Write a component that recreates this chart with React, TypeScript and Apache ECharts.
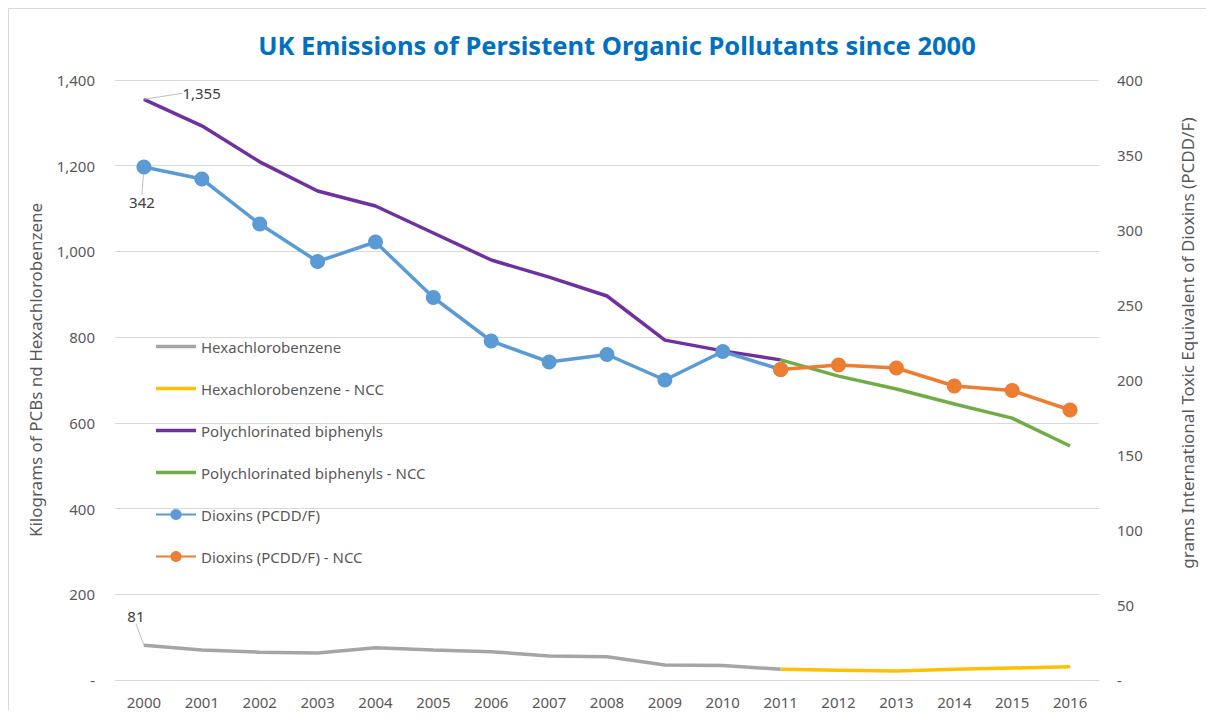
import React, { useEffect, useRef } from "react";
import * as echarts from "echarts";

const years = ["2000", "2001", "2002", "2003", "2004", "2005", "2006", "2007", "2008", "2009", "2010", "2011", "2012", "2013", "2014", "2015", "2016"];

const hexachlorobenzene = [81, 70, 65, 63, 75, 70, 66, 56, 54, 35, 34, 25, null, null, null, null, null];
const hexachlorobenzeneNCC = [null, null, null, null, null, null, null, null, null, null, null, 25, 23, 21, 25, 28, 31];
const pcbs = [1355, 1293, 1209, 1141, 1106, 1043, 980, 940, 896, 793, 768, 747, null, null, null, null, null];
const pcbsNCC = [null, null, null, null, null, null, null, null, null, null, null, 747, 709, 679, 644, 611, 546];
const dioxins = [342, 334, 304, 279, 292, 255, 226, 212, 217, 200, 219, 207, null, null, null, null, null];
const dioxinsNCC = [null, null, null, null, null, null, null, null, null, null, null, 207, 210, 208, 196, 193, 180];

const leftTicks = { min: 0, max: 1400, interval: 200 };
const rightTicks = { min: 0, max: 400, interval: 50 };

const FONT = "'Noto Sans', 'Open Sans', sans-serif";
const TEXT = "#595959";
const LINE_ICON = "path://M0,0 L40,0 L40,3.5 L0,3.5 Z";

const fmt = (v: number) => (v === 0 ? "-" : Number(v).toLocaleString("en-US"));

function firstLabelled(arr: (number | null)[], label: any) {
  return arr.map((v, i) =>
    i === 0 && v != null
      ? { value: v, symbol: "circle", symbolSize: 1, label: { show: true, ...label } }
      : v
  );
}

export default function App() {
  const ref = useRef<HTMLDivElement>(null);
  useEffect(() => {
    if (!ref.current) return;
    const chart = echarts.init(ref.current, null, { renderer: "svg" });
    const labelText = {
      fontFamily: FONT,
      fontSize: 15,
      color: "#404040",
      formatter: (p: any) => fmt(p.value),
    };
    const option: any = {
      animation: false,
      backgroundColor: "#ffffff",
      title: {
        text: "UK Emissions of Persistent Organic Pollutants since 2000",
        left: 603,
        textAlign: "center",
        top: 18,
        textStyle: { color: "#0070C0", fontFamily: FONT, fontSize: 25.5, fontWeight: "bold" },
      },
      grid: { left: 106, top: 71, width: 984, height: 600, containLabel: false },
      legend: {
        orient: "vertical",
        left: 141,
        top: 325,
        itemWidth: 40,
        itemHeight: 14,
        itemGap: 27,
        symbolKeepAspect: true,
        textStyle: { color: TEXT, fontFamily: FONT, fontSize: 15 },
        data: [
          { name: "Hexachlorobenzene", icon: LINE_ICON },
          { name: "Hexachlorobenzene - NCC", icon: LINE_ICON },
          { name: "Polychlorinated biphenyls", icon: LINE_ICON },
          { name: "Polychlorinated biphenyls - NCC", icon: LINE_ICON },
          { name: "Dioxins (PCDD/F)" },
          { name: "Dioxins (PCDD/F) - NCC" },
        ],
      },
      xAxis: {
        type: "category",
        data: years,
        boundaryGap: true,
        axisLine: { show: true, lineStyle: { color: "#d9d9d9" } },
        axisTick: { show: false },
        axisLabel: { color: TEXT, fontFamily: FONT, fontSize: 15, margin: 14 },
      },
      yAxis: [
        {
          type: "value",
          ...leftTicks,
          axisLine: { show: false },
          axisTick: { show: false },
          splitLine: { lineStyle: { color: "#d9d9d9" } },
          axisLabel: { color: TEXT, fontFamily: FONT, fontSize: 15, margin: 20, formatter: fmt },
        },
        {
          type: "value",
          ...rightTicks,
          position: "right",
          axisLine: { show: false },
          axisTick: { show: false },
          splitLine: { show: false },
          axisLabel: { color: TEXT, fontFamily: FONT, fontSize: 15, margin: 18, formatter: fmt },
        },
      ],
      graphic: [
        {
          type: "text",
          x: 26,
          y: 361,
          rotation: Math.PI / 2,
          style: {
            text: "Kilograms of PCBs nd Hexachlorobenzene",
            fill: TEXT,
            font: `17px ${FONT}`,
            align: "center",
            verticalAlign: "middle",
          },
        },
        {
          type: "text",
          x: 1178,
          y: 334,
          rotation: Math.PI / 2,
          style: {
            text: "grams International Toxic Equivalent of Dioxins (PCDD/F)",
            fill: TEXT,
            font: `17px ${FONT}`,
            align: "center",
            verticalAlign: "middle",
          },
        },
      ],
      series: [
        {
          name: "Hexachlorobenzene",
          type: "line",
          yAxisIndex: 0,
          symbol: "none",
          data: firstLabelled(hexachlorobenzene, { position: "top", ...labelText }),
          lineStyle: { color: "#A5A5A5", width: 3.5 },
          itemStyle: { color: "#A5A5A5" },
          labelLine: { show: true, lineStyle: { color: "#bfbfbf", width: 1 } },
          labelLayout: (p: any) => (p.dataIndex === 0 ? { dx: -8, dy: -16 } : {}),
        },
        {
          name: "Hexachlorobenzene - NCC",
          type: "line",
          yAxisIndex: 0,
          symbol: "none",
          data: hexachlorobenzeneNCC,
          lineStyle: { color: "#FFC000", width: 3.5 },
          itemStyle: { color: "#FFC000" },
        },
        {
          name: "Polychlorinated biphenyls",
          type: "line",
          yAxisIndex: 0,
          symbol: "none",
          data: firstLabelled(pcbs, { position: "right", ...labelText }),
          lineStyle: { color: "#7030A0", width: 3.5 },
          itemStyle: { color: "#7030A0" },
          labelLine: { show: true, lineStyle: { color: "#bfbfbf", width: 1 } },
          labelLayout: (p: any) => (p.dataIndex === 0 ? { dx: 33, dy: -6 } : {}),
        },
        {
          name: "Polychlorinated biphenyls - NCC",
          type: "line",
          yAxisIndex: 0,
          symbol: "none",
          data: pcbsNCC,
          lineStyle: { color: "#70AD47", width: 3.5 },
          itemStyle: { color: "#70AD47" },
        },
        {
          name: "Dioxins (PCDD/F)",
          type: "line",
          yAxisIndex: 1,
          symbol: "circle",
          symbolSize: 15,
          data: dioxins.map((v, i) =>
            i === 0 ? { value: v, label: { show: true, position: "bottom", ...labelText } } : v
          ),
          lineStyle: { color: "#5B9BD5", width: 3.5 },
          itemStyle: { color: "#5B9BD5" },
          labelLine: { show: true, lineStyle: { color: "#bfbfbf", width: 1 } },
          labelLayout: (p: any) => (p.dataIndex === 0 ? { dx: -2, dy: 15 } : {}),
        },
        {
          name: "Dioxins (PCDD/F) - NCC",
          type: "line",
          yAxisIndex: 1,
          symbol: "circle",
          symbolSize: 15,
          data: dioxinsNCC,
          lineStyle: { color: "#ED7D31", width: 3.5 },
          itemStyle: { color: "#ED7D31" },
        },
      ],
    };
    chart.setOption(option);
    return () => chart.dispose();
  }, []);
  return (
    <div style={{ width: 1198, height: 702, overflow: "hidden" }}>
      <div
        style={{
          width: 1210,
          height: 712,
          borderLeft: "1px solid #d9d9d9",
          borderTop: "1px solid #d9d9d9",
          boxSizing: "border-box",
        }}
      >
        <div ref={ref} style={{ width: 1209, height: 711 }} />
      </div>
    </div>
  );
}
